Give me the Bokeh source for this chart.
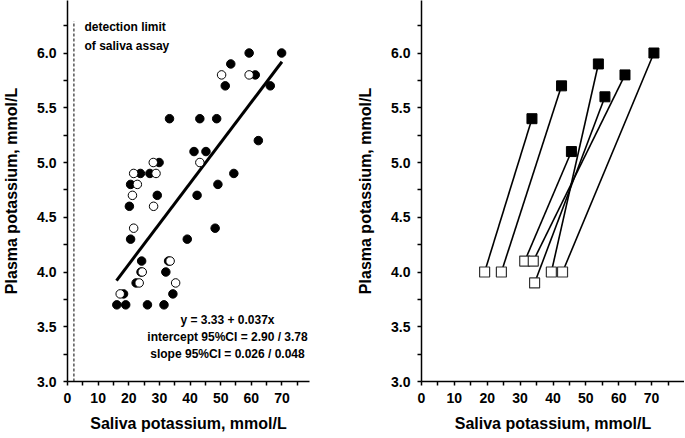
from bokeh.plotting import figure
from bokeh.layouts import row
from bokeh.models import FixedTicker, Label, Range1d, ColumnDataSource, PrintfTickFormatter
from bokeh.embed import file_html
from bokeh.resources import INLINE

# ---------------- data (left panel) ----------------
filled_x = [59.3, 69.9, 53.3, 61.3, 51.5, 66.2, 33.3, 43.2, 48.7, 62.3, 41.3, 45.2,
            29.9, 23.8, 26.9, 54.3, 20.6, 49.1, 29.3, 42.3, 20.2, 48.2, 20.6, 39.1,
            24.2, 33.0, 24.0, 32.1, 22.4, 18.3, 34.4, 16.1, 19.0, 26.1, 31.5]
filled_y = [6.0, 6.0, 5.9, 5.8, 5.7, 5.7, 5.4, 5.4, 5.4, 5.2, 5.1, 5.1,
            5.0, 4.9, 4.9, 4.9, 4.8, 4.8, 4.7, 4.7, 4.6, 4.4, 4.3, 4.3,
            4.1, 4.1, 4.0, 4.0, 3.9, 3.8, 3.8, 3.7, 3.7, 3.7, 3.7]
open_x = [50.3, 59.3, 28.0, 43.2, 21.6, 28.9, 22.8, 21.2, 28.1, 21.6,
          33.5, 24.4, 23.4, 35.3, 17.2]
open_y = [5.8, 5.8, 5.0, 5.0, 4.9, 4.9, 4.8, 4.7, 4.6, 4.4,
          4.1, 4.0, 3.9, 3.9, 3.8]

reg_intercept = 3.33
reg_slope = 0.037
reg_x = [16, 70]
detection_limit = 2.1

# ---------------- data (right panel) ----------------
before_x = [19.2, 24.3, 31.4, 34.0, 34.4, 39.5, 42.9]
before_y = [4.0, 4.0, 4.1, 4.1, 3.9, 4.0, 4.0]
after_x = [33.6, 42.6, 45.6, 61.9, 55.8, 53.8, 70.7]
after_y = [5.4, 5.7, 5.1, 5.8, 5.6, 5.9, 6.0]

x_tick_labels = [0, 10, 20, 30, 40, 50, 60, 70]
y_tick_labels = [3.0, 3.5, 4.0, 4.5, 5.0, 5.5, 6.0]
x_minor = [5, 15, 25, 35, 45, 55, 65, 75]
y_minor = [3.25, 3.75, 4.25, 4.75, 5.25, 5.75, 6.25]

FONT = "Liberation Sans"
H = 437
FRAME_H = 381
Y_TOP = 3.0 + FRAME_H / 109.5


def style(p):
    p.grid.visible = False
    p.outline_line_color = None
    p.background_fill_color = "white"
    p.border_fill_color = "white"
    for ax, ticks, minors in ((p.xaxis[0], x_tick_labels, x_minor),
                              (p.yaxis[0], y_tick_labels, y_minor)):
        ax.ticker = FixedTicker(ticks=ticks, minor_ticks=minors)
        ax.axis_line_width = 1.5
        ax.axis_line_color = "black"
        ax.major_tick_line_width = 1.5
        ax.minor_tick_line_width = 1.5
        ax.major_tick_line_color = "black"
        ax.minor_tick_line_color = "black"
        ax.major_tick_out = 4
        ax.major_tick_in = 0
        ax.minor_tick_out = 4
        ax.minor_tick_in = 0
        ax.major_label_text_font = FONT
        ax.major_label_text_font_style = "bold"
        ax.major_label_text_font_size = "14px"
        ax.major_label_text_color = "black"
        ax.axis_label_text_font = FONT
        ax.axis_label_text_font_style = "bold"
        ax.axis_label_text_font_size = "16px"
        ax.axis_label_text_color = "black"
    p.yaxis[0].formatter = PrintfTickFormatter(format="%.1f")
    p.yaxis[0].major_label_standoff = 7
    p.yaxis[0].axis_label = "Plasma potassium, mmol/L"
    p.yaxis[0].axis_label_standoff = 14
    p.xaxis[0].major_label_standoff = 7
    p.xaxis[0].axis_label = "Saliva potassium, mmol/L"
    p.xaxis[0].axis_label_standoff = 9


# ---------------- left figure ----------------
p1 = figure(width=328, height=H, output_backend="svg", toolbar_location=None,
            x_range=Range1d(0, 79), y_range=Range1d(3.0, Y_TOP),
            min_border_left=64, min_border_right=19, min_border_top=0,
            min_border_bottom=H - FRAME_H)
style(p1)

p1.segment(x0=[detection_limit], y0=[3.0], x1=[detection_limit], y1=[6.29],
           line_color="black", line_width=1, line_dash="3 2")
reg_y = [reg_intercept + reg_slope * v for v in reg_x]
p1.line(reg_x, reg_y, line_color="black", line_width=3)
p1.scatter(filled_x, filled_y, size=8.5, marker="circle", fill_color="black", line_color="black")
p1.scatter(open_x, open_y, size=8.5, marker="circle", fill_color="white", line_color="black", line_width=1)

for txt, ys in (("detection limit", 26.7), ("of saliva assay", 45)):
    p1.add_layout(Label(x=17, y=FRAME_H - ys, x_units="screen", y_units="screen",
                        text=txt, text_align="left", text_baseline="middle",
                        text_font=FONT, text_font_style="bold",
                        text_font_size="12px", text_color="black"))

stat_lines = ["y = 3.33 + 0.037x", "intercept 95%CI = 2.90 / 3.78", "slope 95%CI = 0.026 / 0.048"]
for i, txt in enumerate(stat_lines):
    p1.add_layout(Label(x=224 - 64, y=FRAME_H - (319.3 + 17.3 * i), x_units="screen", y_units="screen",
                        text=txt, text_align="center", text_baseline="middle",
                        text_font=FONT, text_font_style="bold",
                        text_font_size="12px", text_color="black"))

# ---------------- right figure ----------------
p2 = figure(width=356, height=H, output_backend="svg", toolbar_location=None,
            x_range=Range1d(0, 80), y_range=Range1d(3.0, Y_TOP),
            min_border_left=93, min_border_right=0, min_border_top=0,
            min_border_bottom=H - FRAME_H)
style(p2)

src = ColumnDataSource(dict(x0=before_x, y0=before_y, x1=after_x, y1=after_y))
p2.segment(x0="x0", y0="y0", x1="x1", y1="y1", source=src, line_color="black", line_width=1.6)
p2.scatter(after_x, after_y, marker="square", size=10, fill_color="black", line_color="black")
p2.scatter(before_x, before_y, marker="square", size=10, fill_color="white", line_color="#333333", line_width=1.2)

layout = row(p1, p2)
open("out.html", "w").write(file_html(layout, INLINE))
